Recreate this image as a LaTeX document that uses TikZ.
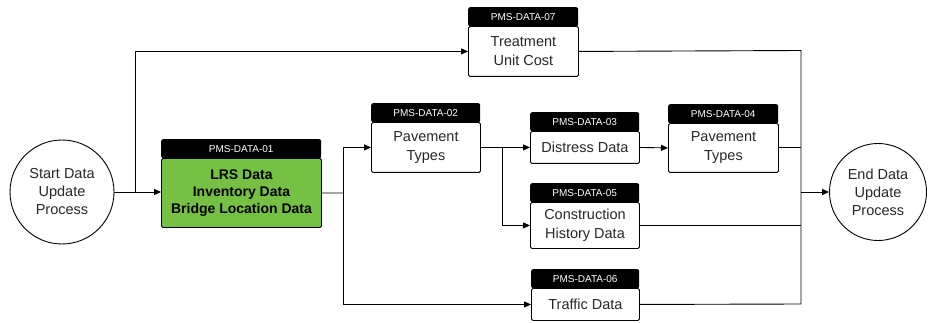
\documentclass[tikz,border=0pt]{standalone}
\usepackage{fontspec}
\setmainfont{Liberation Sans}
\usetikzlibrary{arrows.meta}
\definecolor{lrsgreen}{RGB}{118,192,67}
\definecolor{inkgray}{RGB}{40,40,40}
\tikzset{
  flow/.style={line width=0.9pt, draw=black},
  arr/.style={flow, -{Triangle[length=7pt,width=6pt]}},
  terminal/.style={circle, draw=black, line width=0.9pt, fill=white, minimum size=104pt,
    inner sep=0pt, align=center, text=inkgray,
    font=\fontsize{14.5}{18}\selectfont},
  hdrbox/.style={rectangle, fill=black, rounded corners=2pt, inner sep=0pt,
    minimum height=19pt, text=white, font=\fontsize{10}{12}\selectfont},
  bodybox/.style={rectangle, draw=black, line width=0.9pt, fill=white, rounded corners=1.5pt,
    inner sep=0pt, align=center, text=inkgray, font=\fontsize{14.5}{19}\selectfont},
}
% #1 name, #2 identifier, #3 left, #4 top, #5 right, #6 bottom, #7 label, #8 extra body style
\newcommand\pmsbox[8]{%
  \node[bodybox, #8, anchor=north west, minimum width={(#5-#3)*1pt},
        minimum height={(#6-#4-19)*1pt}] (#1) at (#3,#4+19) {#7};
  \node[hdrbox, anchor=north west, minimum width={(#5-#3)*1pt}] (#1h) at (#3,#4) {#2};
}
\begin{document}
\begin{tikzpicture}[x=1pt,y=-1pt]
  \useasboundingbox (0,0) rectangle (928,323);

  % terminals
  \node[terminal] (start) at (62,192) {Start Data\\Update\\Process};
  \node[terminal, minimum size=97pt] (end) at (878,192) {End Data\\Update\\Process};

  % data boxes
  \pmsbox{d01}{PMS-DATA-01}{161}{139}{321}{227}{LRS Data\\Inventory Data\\Bridge Location Data}%
    {fill=lrsgreen, text=black, font=\bfseries\fontsize{14}{17}\selectfont}
  \pmsbox{d07}{PMS-DATA-07}{468}{7}{578}{76}{Treatment\\Unit Cost}{}
  \pmsbox{d02}{PMS-DATA-02}{371}{103}{480}{172}{Pavement\\Types}{}
  \pmsbox{d03}{PMS-DATA-03}{530}{112}{639}{163}{Distress Data}{}
  \pmsbox{d04}{PMS-DATA-04}{668}{104}{778}{172}{Pavement\\Types}{}
  \pmsbox{d05}{PMS-DATA-05}{530}{183}{639}{248}{Construction\\History Data}{}
  \pmsbox{d06}{PMS-DATA-06}{531}{269}{639}{320}{Traffic Data}{}

  % junction points
  \coordinate (j1) at (135,192);
  \coordinate (j2) at (343,193);
  \coordinate (j3) at (502,147);
  \coordinate (rtop) at (801,50.5);
  \coordinate (rbot) at (801,304);
  \coordinate (jend) at (801,192);

  % left side
  \draw[arr] (start.east) -- (start.east -| d01.west);
  \draw[arr] (j1) |- (d07.west);
  \draw[flow] (d01.east) -- (j2);
  \draw[arr] (j2) |- (d02.west);
  \draw[arr] (j2) |- (d06.west);

  % middle
  \draw[arr] (d02.east) -- (d03.west);
  \draw[arr] (j3) |- (d05.west);
  \draw[arr] (d03.east) -- (d04.west);

  % right-hand collector
  \draw[flow] (d07.east) -- (rtop) -- (rbot) -- (d06.east);
  \draw[flow] (d04.east) -- (d04.east -| rtop);
  \draw[flow] (d05.east) -- (d05.east -| rtop);
  \draw[arr] (jend) -- (end.west);
\end{tikzpicture}
\end{document}
